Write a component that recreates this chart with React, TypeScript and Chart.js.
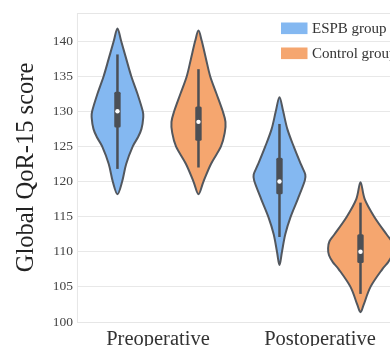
import React, { useEffect, useRef } from "react";
import { Chart, registerables } from "chart.js";

Chart.register(...registerables);

// ---------- data ----------
const categories = ["Preoperative", "Postoperative"];
const seriesNames = ["ESPB group", "Control group"];
const yTickStep = 5;
const yMin = 100;
const yMax = 144;

// violin outlines: score levels and relative density (half-width, 1 = widest allowed)
const espbPreLevels = [141.8, 140, 137.5, 135, 132.5, 130, 129, 127.5, 126.3, 125, 122.5, 120, 118.2];
const espbPreDensity = [0, 0.114, 0.269, 0.426, 0.617, 0.781, 0.793, 0.741, 0.633, 0.472, 0.269, 0.145, 0];
const espbPostLevels = [132, 130, 127.5, 125, 122.5, 121, 120, 117.5, 115, 112.5, 110, 108.1];
const espbPostDensity = [0, 0.114, 0.241, 0.438, 0.657, 0.796, 0.772, 0.565, 0.346, 0.179, 0.077, 0];
const controlPreLevels = [141.5, 140, 137.5, 135, 132.5, 130, 128.5, 127, 125, 122.5, 120, 118.2];
const controlPreDensity = [0, 0.102, 0.231, 0.361, 0.556, 0.75, 0.833, 0.812, 0.694, 0.386, 0.154, 0];
const controlPostLevels = [119.9, 117.5, 115, 112.5, 111.5, 110.5, 109.5, 108.5, 107.5, 105, 102.5, 101.4];
const controlPostDensity = [0, 0.13, 0.423, 0.802, 0.957, 1.0, 0.972, 0.849, 0.67, 0.309, 0.102, 0];

// box summaries per category [Preoperative, Postoperative]
const espbMin = [121.8, 112.1];
const espbQ1 = [127.7, 118.2];
const espbMedian = [130, 120];
const espbQ3 = [132.8, 123.4];
const espbMax = [138.1, 128.2];
const controlMin = [122, 104];
const controlQ1 = [125.8, 108.4];
const controlMedian = [128.5, 110];
const controlQ3 = [130.7, 112.5];
const controlMax = [136, 117];

const groups = [
  {
    name: seriesNames[0],
    fill: "#84b8f1",
    profiles: [
      { levels: espbPreLevels, density: espbPreDensity },
      { levels: espbPostLevels, density: espbPostDensity },
    ],
    min: espbMin, q1: espbQ1, med: espbMedian, q3: espbQ3, max: espbMax,
  },
  {
    name: seriesNames[1],
    fill: "#f5a66f",
    profiles: [
      { levels: controlPreLevels, density: controlPreDensity },
      { levels: controlPostLevels, density: controlPostDensity },
    ],
    min: controlMin, q1: controlQ1, med: controlMedian, q3: controlQ3, max: controlMax,
  },
];

const FONT = "'Liberation Serif', 'Times New Roman', serif";

function smoothClosedPath(ctx: CanvasRenderingContext2D, pts: { x: number; y: number }[]) {
  const n = pts.length;
  ctx.beginPath();
  ctx.moveTo(pts[0].x, pts[0].y);
  for (let i = 0; i < n; i++) {
    const p0 = pts[(i - 1 + n) % n];
    const p1 = pts[i];
    const p2 = pts[(i + 1) % n];
    const p3 = pts[(i + 2) % n];
    const c1x = p1.x + (p2.x - p0.x) / 6;
    const c1y = p1.y + (p2.y - p0.y) / 6;
    const c2x = p2.x - (p3.x - p1.x) / 6;
    const c2y = p2.y - (p3.y - p1.y) / 6;
    ctx.bezierCurveTo(c1x, c1y, c2x, c2y, p2.x, p2.y);
  }
  ctx.closePath();
}

const violinPlugin = {
  id: "violins",
  beforeDatasetsDraw(chart: any) {
    const { ctx, chartArea } = chart;
    ctx.save();
    ctx.strokeStyle = "#e6e6e6";
    ctx.lineWidth = 1;
    ctx.strokeRect(chartArea.left + 0.5, chartArea.top + 0.5, chartArea.right - chartArea.left, chartArea.bottom - chartArea.top);
    ctx.restore();
  },
  afterDatasetsDraw(chart: any) {
    const ctx: CanvasRenderingContext2D = chart.ctx;
    const ys = chart.scales.y;
    const xs = chart.scales.x;
    const catW = xs.getPixelForValue(1) - xs.getPixelForValue(0);
    const maxHalf = catW * 0.2;
    ctx.save();
    groups.forEach((g, di) => {
      const meta = chart.getDatasetMeta(di);
      g.profiles.forEach((prof, ci) => {
        const cx = meta.data[ci].x;
        const right = prof.levels.map((v, k) => ({ x: cx + prof.density[k] * maxHalf, y: ys.getPixelForValue(v) }));
        const left = right.map((p) => ({ x: 2 * cx - p.x, y: p.y })).reverse();
        const pts = [...right, ...left.slice(1, left.length - 1)];
        smoothClosedPath(ctx, pts);
        ctx.fillStyle = g.fill;
        ctx.fill();
        ctx.lineWidth = 2;
        ctx.strokeStyle = "#52575e";
        ctx.lineJoin = "round";
        ctx.stroke();

        // whisker
        ctx.beginPath();
        ctx.moveTo(cx, ys.getPixelForValue(g.max[ci]));
        ctx.lineTo(cx, ys.getPixelForValue(g.min[ci]));
        ctx.lineWidth = 2.5;
        ctx.strokeStyle = "#4b4f55";
        ctx.stroke();
        // box
        const top = ys.getPixelForValue(g.q3[ci]);
        const bot = ys.getPixelForValue(g.q1[ci]);
        ctx.fillStyle = "#4b4f55";
        ctx.beginPath();
        if ((ctx as any).roundRect) (ctx as any).roundRect(cx - 3.2, top, 6.4, bot - top, 1.5);
        else ctx.rect(cx - 3.2, top, 6.4, bot - top);
        ctx.fill();
        // median
        ctx.beginPath();
        ctx.arc(cx, ys.getPixelForValue(g.med[ci]), 2.2, 0, Math.PI * 2);
        ctx.fillStyle = "#ffffff";
        ctx.fill();
      });
    });
    ctx.restore();
  },
  afterDraw(chart: any) {
    const ctx: CanvasRenderingContext2D = chart.ctx;
    const ca = chart.chartArea;
    ctx.save();
    groups.forEach((g, i) => {
      const bx = 281;
      const by = ca.top + 9.5 + i * 25;
      ctx.fillStyle = g.fill;
      ctx.fillRect(bx, by, 26.5, 11.6);
      ctx.fillStyle = "#333333";
      ctx.font = `15px ${FONT}`;
      ctx.textBaseline = "middle";
      ctx.textAlign = "left";
      ctx.fillText(g.name, bx + 31, by + 6.2);
    });
    ctx.restore();
  },
};

export default function App() {
  const ref = useRef<HTMLCanvasElement | null>(null);
  useEffect(() => {
    if (!ref.current) return;
    const chart = new Chart(ref.current, {
      type: "bar",
      data: {
        labels: categories,
        datasets: groups.map((g) => ({
          label: g.name,
          data: g.med,
          backgroundColor: "rgba(0,0,0,0)",
          borderWidth: 0,
          categoryPercentage: 1,
          barPercentage: 1,
        })),
      },
      options: {
        animation: false,
        responsive: true,
        maintainAspectRatio: false,
        layout: { padding: { left: 12.3, top: 13, right: 19, bottom: 3.4 } },
        plugins: { legend: { display: false }, tooltip: { enabled: false } },
        scales: {
          x: {
            offset: true,
            grid: { display: false, drawTicks: false },
            border: { display: false },
            ticks: { font: { family: FONT, size: 20.5 }, color: "#333333", padding: 5 },
          },
          y: {
            min: yMin,
            max: yMax,
            grid: { color: "#e8e8e8", drawTicks: false },
            border: { display: false },
            ticks: {
              stepSize: yTickStep,
              includeBounds: false,
              font: { family: FONT, size: 13.5 },
              color: "#444444",
              padding: 4,
            },
            title: {
              display: true,
              text: "Global QoR-15 score",
              font: { family: FONT, size: 24.5 },
              color: "#222222",
              padding: { top: 0, bottom: 7 },
            },
          },
        },
      },
      plugins: [violinPlugin],
    });
    return () => chart.destroy();
  }, []);
  return (
    <div style={{ position: "fixed", left: 0, top: 0, width: 390, height: 346, overflow: "hidden", background: "#fff" }}>
      <div style={{ position: "relative", width: 420, height: 360 }}>
        <canvas ref={ref} />
      </div>
    </div>
  );
}
